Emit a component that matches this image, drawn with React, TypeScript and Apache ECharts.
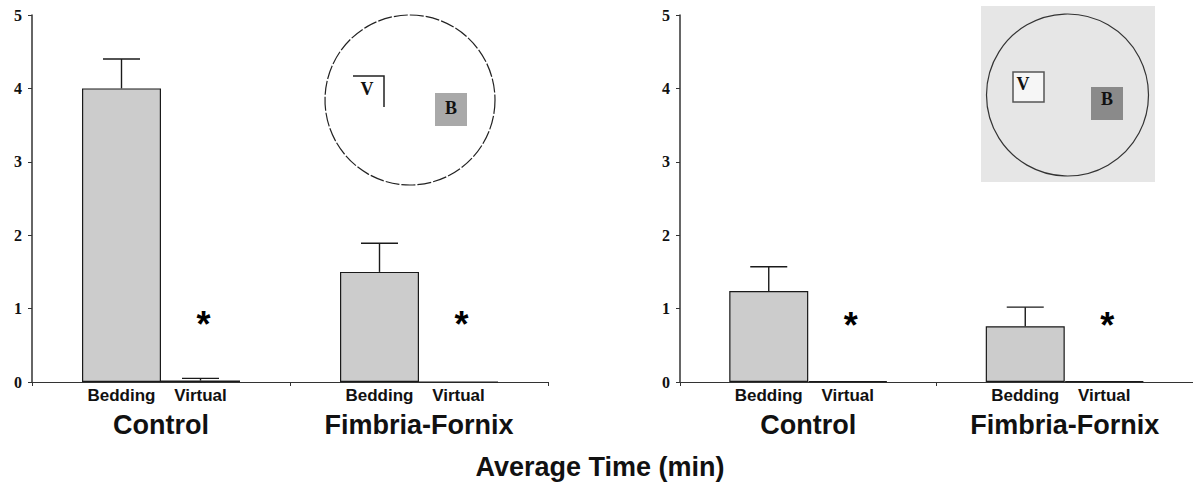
import React, { useEffect, useRef } from "react";
import * as echarts from "echarts";

// ---- data ----
const groups = ["Control", "Fimbria-Fornix"];
const barNames = ["Bedding", "Virtual"];
const yTicks = [0, 1, 2, 3, 4, 5];

// left panel
const bedding1 = [4.0, 1.5];
const bedding1Err = [0.4, 0.39];
const virtual1 = [0.02, 0.0];
const virtual1Err = [0.03, 0];
const star1 = [0.79, 0.79];

// right panel
const bedding2 = [1.24, 0.76];
const bedding2Err = [0.33, 0.26];
const virtual2 = [0.01, 0.01];
const virtual2Err = [0, 0];
const star2 = [0.77, 0.77];

const xTitle = "Average Time (min)";

// ---- style ----
const BAR_W = 79;
const CAP_W = 37;
const SANS = "'Liberation Sans', Arial, sans-serif";
const SERIF = "'Liberation Serif', 'Times New Roman', serif";
const BAR_FILL = "#cccccc";
const INK = "#1a1a1a";

function errSeries(values: number[], errs: number[], idx: number, side: number) {
  return {
    type: "custom",
    xAxisIndex: idx,
    yAxisIndex: idx,
    z: 5,
    data: values.map((v, i) => [i, v, errs[i]]),
    encode: { x: 0, y: 1 },
    renderItem: (params: any, api: any) => {
      const e = api.value(2);
      if (!e) return null;
      const cat = api.value(0);
      const v = api.value(1);
      const base = api.coord([cat, v]);
      const top = api.coord([cat, v + e]);
      const x = base[0] + side * (BAR_W / 2);
      return {
        type: "group",
        children: [
          { type: "line", shape: { x1: x, y1: base[1], x2: x, y2: top[1] }, style: { stroke: INK, lineWidth: 1.4 } },
          { type: "line", shape: { x1: x - CAP_W / 2, y1: top[1], x2: x + CAP_W / 2, y2: top[1] }, style: { stroke: INK, lineWidth: 1.4 } },
        ],
      };
    },
  };
}

function starSeries(values: number[], idx: number) {
  return {
    type: "custom",
    xAxisIndex: idx,
    yAxisIndex: idx,
    z: 6,
    data: values.map((v, i) => [i, v]),
    encode: { x: 0, y: 1 },
    renderItem: (params: any, api: any) => {
      const p = api.coord([api.value(0), api.value(1)]);
      return {
        type: "text",
        x: p[0] + BAR_W / 2 + 3,
        y: p[1],
        style: {
          text: "*",
          fontSize: 36,
          fontWeight: "bold",
          fontFamily: SANS,
          align: "center",
          verticalAlign: "middle",
          fill: "#000",
        },
      };
    },
  };
}

function barSeries(name: string, values: number[], idx: number) {
  return {
    type: "bar",
    name,
    xAxisIndex: idx,
    yAxisIndex: idx,
    data: values,
    barWidth: BAR_W,
    barGap: "0%",
    itemStyle: { color: BAR_FILL, borderColor: INK, borderWidth: 1.2 },
  };
}

function xAxisCfg(idx: number) {
  return {
    type: "category",
    gridIndex: idx,
    data: groups,
    axisLine: { lineStyle: { color: "#333", width: 1.2 } },
    axisTick: { show: true, length: 4, lineStyle: { color: "#333" } },
    axisLabel: {
      margin: 3,
      interval: 0,
      formatter: (v: string) => `{a|${barNames[0]}}{a|${barNames[1]}}\n{b|${v}}`,
      rich: {
        a: { width: BAR_W, align: "center", fontSize: 17, fontWeight: "bold", fontFamily: SANS, color: "#111", lineHeight: 20 },
        b: { fontSize: 27, fontWeight: "bold", fontFamily: SANS, color: "#111", lineHeight: 40 },
      },
    },
  };
}

function yAxisCfg(idx: number) {
  return {
    type: "value",
    gridIndex: idx,
    min: yTicks[0],
    max: yTicks[yTicks.length - 1],
    interval: 1,
    splitLine: { show: false },
    axisLine: { show: true, lineStyle: { color: "#333", width: 1.5 } },
    axisTick: { show: true, length: 4, lineStyle: { color: "#333" } },
    axisLabel: { margin: 10, fontSize: 16, fontWeight: "bold", fontFamily: SERIF, color: "#111" },
  };
}

export default function App() {
  const ref = useRef<HTMLDivElement>(null);
  useEffect(() => {
    if (!ref.current) return;
    const chart = echarts.init(ref.current, null, { renderer: "svg" });
    const serifB = (size: number) => ({ fontSize: size, fontWeight: "bold", fontFamily: SERIF, fill: "#111", align: "center", verticalAlign: "middle" });
    chart.setOption({
      animation: false,
      backgroundColor: "#ffffff",
      grid: [
        { left: 32, top: 15, width: 516, height: 367 },
        { left: 680, top: 15, width: 522, height: 367 },
      ],
      xAxis: [xAxisCfg(0), xAxisCfg(1)],
      yAxis: [yAxisCfg(0), yAxisCfg(1)],
      series: [
        barSeries("Bedding", bedding1, 0),
        barSeries("Virtual", virtual1, 0),
        errSeries(bedding1, bedding1Err, 0, -1),
        errSeries(virtual1, virtual1Err, 0, 1),
        starSeries(star1, 0),
        barSeries("Bedding", bedding2, 1),
        barSeries("Virtual", virtual2, 1),
        errSeries(bedding2, bedding2Err, 1, -1),
        errSeries(virtual2, virtual2Err, 1, 1),
        starSeries(star2, 1),
      ],
      graphic: [
        // left inset (arena sketch)
        { type: "circle", shape: { cx: 410, cy: 100, r: 85 }, style: { fill: "#fff", stroke: "#222", lineWidth: 1.2, lineDash: [14, 2] }, z: 1 },
        { type: "polyline", shape: { points: [[353, 76], [384, 76], [384, 107]] }, style: { stroke: "#222", lineWidth: 1.5, fill: null }, z: 2 },
        { type: "text", x: 367, y: 89, style: { text: "V", ...serifB(18) }, z: 2 },
        { type: "rect", shape: { x: 435, y: 93, width: 32, height: 33 }, style: { fill: "#a9a9a9" }, z: 2 },
        { type: "text", x: 451, y: 108, style: { text: "B", ...serifB(18) }, z: 3 },
        // right inset
        { type: "rect", shape: { x: 981, y: 6, width: 174, height: 176 }, style: { fill: "#e6e6e6" }, z: 1 },
        { type: "circle", shape: { cx: 1067.5, cy: 95, r: 81 }, style: { fill: null, stroke: "#333", lineWidth: 1.2 }, z: 2 },
        { type: "rect", shape: { x: 1013, y: 72, width: 31, height: 30 }, style: { fill: "#f6f6f6", stroke: "#555", lineWidth: 1.5 }, z: 2 },
        { type: "text", x: 1023, y: 84, style: { text: "V", ...serifB(18) }, z: 3 },
        { type: "rect", shape: { x: 1091, y: 87, width: 32, height: 33 }, style: { fill: "#8a8a8a" }, z: 2 },
        { type: "text", x: 1107, y: 99, style: { text: "B", ...serifB(18) }, z: 3 },
        // shared axis title
        { type: "text", x: 600, y: 467, style: { text: xTitle, fontSize: 27, fontWeight: "bold", fontFamily: SANS, fill: "#111", align: "center", verticalAlign: "middle" }, z: 3 },
      ],
    });
    return () => chart.dispose();
  }, []);
  return <div ref={ref} style={{ position: "fixed", left: 0, top: 0, width: 1193, height: 485 }} />;
}
